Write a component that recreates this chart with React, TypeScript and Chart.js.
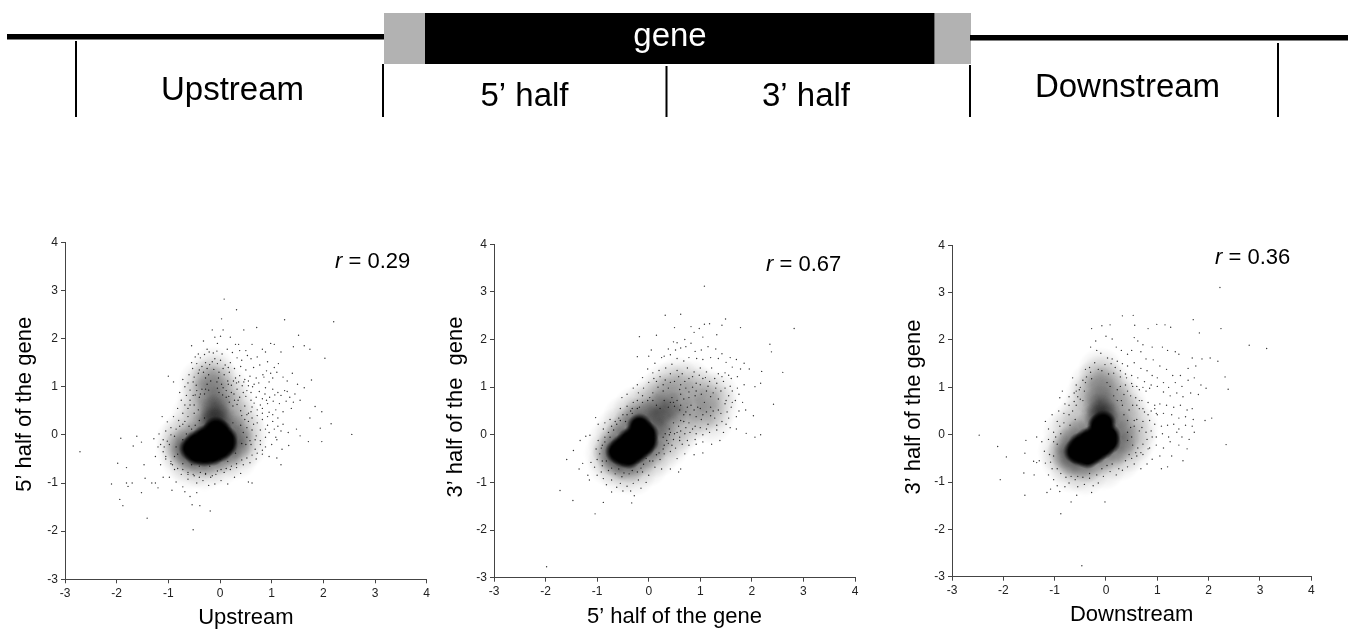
import React, { useEffect, useRef } from "react";
import { Chart, registerables } from "chart.js";

Chart.register(...registerables);

const FONT = '"Liberation Sans", Arial, sans-serif';

// ---------- gene diagram (positions along the drawn map) ----------
const flankLeft = [[7, 36.7], [384, 36.7]];
const flankRight = [[970, 37.7], [1348, 37.7]];
const utrLeft = [[384, 38.5], [425, 38.5]];
const geneBody = [[425, 38.5], [934.5, 38.5]];
const utrRight = [[934.5, 38.5], [971, 38.5]];
const dividers = [
  [[76, 41], [76, 117]],
  [[383, 64], [383, 117]],
  [[666.5, 66], [666.5, 117]],
  [[970, 65], [970, 117]],
  [[1278, 43], [1278, 117]],
];
const regionLabels: [string, number, number, string][] = [
  ["gene", 670, 37, "#ffffff"],
  ["Upstream", 232.5, 91, "#000000"],
  ["5\u2019 half", 524.5, 97, "#000000"],
  ["3\u2019 half", 806, 97, "#000000"],
  ["Downstream", 1127.5, 88, "#000000"],
];

// ---------- tick labels shared by the scatter plots ----------
const axisTicks = [-3, -2, -1, 0, 1, 2, 3, 4];

// ---------- panel 1: Upstream vs 5' half ----------
const upCore = [-.55,-.28,-.45,-.16,-.45,-.38,-.3,-.06,-.3,-.24,-.3,-.4,-.15,.02,-.15,-.18,-.15,-.38,0,.05,0,-.1,0,-.3,.1,-.08,.1,-.2,-.08,.12];
const upShade = [-.75,-.25,-.65,-.42,-.5,-.5,-.3,-.55,-.1,-.5,.1,-.42,.25,-.3,.35,-.15,.3,.05,.15,.2,0,.28,-.2,.25,-.35,.1,-.55,-.08,-.15,.45,-.05,.5,-.12,.65,-.08,.3,-.12,.2];
const upLight = [-.8,-.3,-.7,-.5,-.55,-.65,-.3,-.68,0,-.58,.3,-.45,.45,-.25,.5,0,.42,.25,.3,.5,.2,.75,.1,1,-.1,1.2,-.3,1,-.4,.7,-.5,.4,-.68,.05,-.8,-.1,-.15,1.35,-.3,.4,.1,.5,-.1,.95,-.15,.8,-.35,1.1];
const upDots = [
-2.71,-.35,-1.98,-.59,-1.92,-.07,-2.1,-1.02,-1.94,-1.34,-1.88,-1.47,-1.81,-.68,-1.81,-1,-1.78,-1.07,-1.7,-1,-1.68,-.23,-1.61,-.03,-1.52,-.15,-1.52,-1.2,-1.41,-1.73,-1.47,-.62,-1.45,-.9,-1.32,-1,-.52,-1.97,-.54,-1.45,-.39,-1.47,-.19,-1.58,
.08,2.82,.32,2.6,.03,2.41,1.25,2.39,2.2,2.35,1.52,2.07,.71,2.23,.46,2.18,-.15,2.18,.06,2.18,2.03,1.59,2.55,.01,2.15,.23,1.97,.48,1.97,-.14,1.94,.14,1.84,.59,1.74,.35,1.71,-.14,1.77,1.14,1.74,1.78,1.63,1.85,1.42,1.83,
-.55,1.85,-.32,1.95,-.1,2.03,.01,2.05,.2,2.03,.3,1.88,.36,1.88,-.05,1.9,-.25,1.78,-.42,1.68,-.48,1.62,-.38,1.6,-.3,1.67,-.21,1.72,-.13,1.7,-.06,1.74,.04,1.68,.14,1.78,.24,1.71,.33,1.6,.42,1.55,.53,1.65,.6,1.58,.72,1.62,.82,1.78,.88,1.72,.98,1.9,1.05,1.88,1.18,1.72,1.13,1.48,1.05,1.4,.92,1.52,.77,1.45,.65,1.4,.5,1.35,.4,1.42,.28,1.38,.2,1.5,.1,1.45,.01,1.55,-.1,1.58,-.2,1.46,-.28,1.5,-.35,1.42,-.45,1.48,-.53,1.38,-.6,1.25,-.5,1.2,-.42,1.28,-.32,1.3,-.22,1.25,-.12,1.36,-.02,1.3,.08,1.25,.18,1.3,.3,1.18,.38,1.23,.48,1.15,.58,1.22,.7,1.18,.83,1.25,.95,1.1,1.02,1.18,1.22,1.2,1.3,1.12,1.4,1.28,1.5,1.05,1.63,.98,1.45,.85,1.35,.78,1.25,.92,1.12,.88,1.02,.95,.88,.98,.76,.9,.63,1,.52,.92,.43,1.02,.33,.95,.22,1.03,.12,.92,.03,1.05,-.05,.97,-.25,1.05,-.35,.95,-.46,1.03,-.58,.93,-.68,1,-.78,.88,-.9,1.1,-1,1.22,-.75,.72,-.65,.82,-.58,.72,-.48,.83,-.4,.78,-.3,.85,-.22,.93,.05,.83,.17,.8,.27,.85,.38,.78,.5,.8,.6,.72,.7,.78,.82,.75,.92,.65,1.03,.7,1.15,.65,1.28,.7,1.42,.68,1.55,.72,1.38,.55,1.22,.48,1.08,.52,.95,.47,.82,.55,.72,.52,.62,.58,.55,.45,.48,.6,.4,.5,.33,.63,.25,.6,.18,.68,-.62,.55,-.72,.45,-.82,.55,-.9,.38,-1.02,.27,-1.12,.38,-.95,.15,-1.05,.08,-1.18,.02,-1.28,-.08,-1.15,-.2,-1.02,-.13,-.88,-.03,-.78,.18,-.68,.28,-.6,.18,-.8,.3,.62,.35,.72,.25,.82,.32,.92,.2,1.02,.28,1.12,.18,1.22,.22,1.32,.05,1.48,.12,1.55,-.02,1.33,-.22,1.2,-.3,1.1,-.1,1,-.2,.88,-.25,.78,-.12,.7,-.02,.62,.1,.52,.15,.6,-.2,.68,-.3,.82,-.4,.95,-.45,1.1,-.48,1.18,-.62,.7,-.5,.58,-.58,.45,-.62,.32,-.68,.2,-.72,.08,-.78,-.05,-.75,-.15,-.85,-.28,-.82,-.4,-.88,-.52,-.82,-.62,-.78,-.75,-.82,-.88,-.72,-.95,-.6,-1.05,-.5,-1.15,-.62,-1.25,-.45,-1.1,-.35,-.98,-.88,-.85,-.98,-.72,-1.08,-.62,-.92,-.45,-1,-.33,-.95,-.22,-1.05,-.1,-1.02,.02,-.95,.15,-1.02,.28,-.88,.4,-.8,.55,-.98,.62,-1,-1.1,-.88,-1.2,-1.1,-1.25,-1,-.93,-1.15,-.58,-1.28,-.68,-1.18,-.45,-1.2,.5,1.75,.62,1.88,.38,1.75,.85,1.2,.75,1.08,.55,1.02,.32,1.08,.15,1.12,-.03,1.18,-.18,1.12,-.28,1.18,-.52,1.1,-.62,1.08,-.72,1.15,
.55,1.12,.66,1.05,.9,1.33,.98,1.28,1.1,1.3,.87,.85,.96,.78,1.06,.83,1.18,.82,1.3,.9,.78,.62,.9,.72,.66,.66,.6,.88,.45,.88,.35,.72,.28,.72,.22,.88,.12,.78,.06,.98,.16,1.05,.26,1.12,.36,1.1,.46,1.1,-.06,1.1,-.02,.88,-.28,.95,-.38,.85,-.45,.92,-.52,.82,-.58,.62,-.68,.62,-.5,.62,-.42,.52,-.5,.45,-.62,.38,-.72,.22,-.85,.12,-.95,0,-1.1,-.1,-1.2,-.25,-1.08,-.25,-.98,-.2,-1.05,-.45,-.95,-.55,-.88,-.45,-.92,-.62,-.82,-.7,-.72,-.72,-.62,-.82,-.5,-.85,-.38,-.78,-.28,-.8,-.18,-.88,-.08,-.82,.02,-.72,.12,-.7,.22,-.65,.32,-.6,.42,-.52,.52,-.48,.62,-.42,.72,-.38,.82,-.32,.5,-.2,.58,-.12,.68,-.1,.78,-.2,.88,-.05,.95,.05,.88,.12,.78,.1,.65,.22,.55,.28,.48,.32,.42,.4,.52,.42,.6,.48,.72,.4,.82,.45,.92,.38,1.02,.42,1.12,.35,1.05,.12,1.18,.08,1.08,-.05,-.05,1.48,.06,1.38,.16,1.4,-.15,1.52,-.25,1.38,-.4,1.35,-.55,1.5,.25,.25,.4,.2,.45,.05,.52,-.05,.42,-.18,.3,-.38,.15,-.55,0,-.5,-.2,-.65,-.4,-.65,-.55,-.62,-.72,-.6,-.82,-.4,-.85,-.25,-.72,-.1,-.65,.02,-.55,.12,-.48,.2,-.4,.3,-.3,.35];

// ---------- panel 2: 5' half vs 3' half ----------
const fiveCore = [-.6,-.35,-.5,-.25,-.5,-.42,-.38,-.12,-.38,-.28,-.38,-.45,-.25,-.02,-.25,-.18,-.25,-.35,-.13,.08,-.13,-.08,-.13,-.24,-.05,.02,-.05,-.14,-.18,.18];
const fiveShade = [-.75,-.35,-.68,-.5,-.55,-.6,-.38,-.65,-.18,-.52,0,-.35,.12,-.18,.2,.05,.12,.25,0,.38,-.18,.42,-.35,.25,-.5,.05,-.65,-.15,.25,.25,.4,.4,.15,.5,.55,.55,.3,.6];
const fiveLight = [-.8,-.4,-.75,-.6,-.55,-.75,-.3,-.8,-.05,-.62,.15,-.42,.35,-.22,.5,-.02,.65,.15,.85,.35,1.05,.5,1.3,.6,1.3,.85,1.05,.95,.8,1.1,.55,1.15,.35,1.05,.15,.85,-.05,.65,-.25,.55,-.45,.35,-.6,.1,-.75,-.15,.7,.65,.95,.72,.5,.85,.25,.75,1.2,.3];
const fiveDots = [
-1.98,-2.77,-1.04,-1.66,-1.47,-1.38,-1.72,-1.17,-.88,-1.42,-.33,-1.43,-1.59,-.52,-1.46,-.33,-1.33,-.12,-1.22,-.03,-1.14,-.01,-1.03,.36,1.08,3.12,.32,2.51,.62,2.53,2.82,2.23,1.49,2.43,2.35,1.9,2.38,1.74,2.6,1.31,2.42,.64,2.19,1.33,2.17,1.08,2.06,1.01,2.17,0,2.06,-.05,1.89,.03,2.03,.4,1.78,2.25,-.18,2.06,.15,2.09,-.22,1.64,
.5,2.25,.82,2.27,.98,2.23,1.08,2.32,1.18,2.33,1.42,2.3,1.32,2.1,1.05,2.05,.88,2.15,.7,2.0,.48,1.95,.55,1.93,.3,1.65,.05,1.78,0,1.65,.12,1.5,.25,1.62,.38,1.8,.42,1.68,.52,1.78,.62,1.82,.72,1.85,.82,1.92,.9,1.75,1.02,1.78,1.15,1.85,1.3,1.8,1.42,1.7,1.58,1.62,1.7,1.58,1.85,1.5,1.95,1.38,1.78,1.38,1.62,1.42,1.5,1.52,1.35,1.6,1.2,1.62,1.05,1.58,.93,1.6,.78,1.62,.68,1.55,.55,1.6,.45,1.48,.33,1.4,.2,1.35,.08,1.3,-.02,1.38,-.12,1.2,-.22,1.05,-.3,.98,-.42,.85,-.52,.78,-.2,.88,-.1,.98,0,1.1,.1,1.18,.22,1.22,.32,1.15,.42,1.28,.55,1.35,.65,1.28,.75,1.4,.88,1.32,1,1.4,1.12,1.32,1.22,1.4,1.35,1.28,1.48,1.3,1.6,1.18,1.72,1.22,1.85,1.05,1.72,.98,1.58,1.02,1.45,1.12,1.32,1.08,1.18,1.12,1.05,1.18,.92,1.08,.78,1.18,.62,1.05,.5,1.12,.38,.98,.28,.92,.18,1,.08,.88,.02,.78,.62,.85,.78,.9,.92,.92,1.12,.92,1.25,.88,1.4,.92,1.55,.82,1.68,.72,1.82,.68,1.88,.52,1.75,.5,1.6,.58,1.48,.65,1.35,.52,1.2,.58,1.08,.68,.95,.58,.82,.62,.72,.48,.6,.52,.48,.68,.38,.58,1.7,.38,1.55,.35,1.42,.28,1.28,.35,1.15,.22,1.02,.32,.9,.18,.78,.25,.68,.28,.58,.18,.48,.25,.4,.12,.32,.02,1.7,.12,1.58,.15,1.45,.05,1.32,.1,1.18,.05,1.05,.0,.92,.02,.8,.05,.7,.02,.6,-.05,.48,-.1,.38,-.18,.28,-.05,1.38,-.12,1.22,-.2,1.05,-.15,.92,-.2,.78,-.22,.65,-.2,.52,-.28,.42,-.35,.3,-.4,.22,-.52,1.05,-.38,.88,-.42,.7,-.4,.55,-.5,.62,-.72,.58,-.78,.42,-.72,.25,-.72,.12,-.68,.0,-.85,-.12,-.78,-.05,-1.0,-.2,-.95,-.3,-1.02,-.15,-1.12,-.35,-1.18,-.28,-1.28,-.42,-1.08,-.5,-1.18,-.55,-1.02,-.62,-1.1,-.72,-1.2,-.72,-.95,-.82,-1.05,-.88,-.92,-.92,-.78,-1.0,-.85,-1.18,-.85,-1.15,-.95,-1.05,-.68,-1.12,-.58,-1.28,-.6,-1.35,-.72,-1,-.52,-.95,-.4,-1.02,-.3,-.9,-.22,-.98,-.12,-.85,-.05,-.88,.12,-.78,.05,-.72,.18,-.65,.28,-.58,.35,-.5,.42,-.55,.55,-.42,.6,-.35,.5,-.3,.68,-.22,.72,-.12,.82,-.75,.32,-.85,.25,-.98,.22,
.15,1.12,.28,1.05,.42,1.1,.58,1.22,.7,1.12,.85,1.22,.98,1.25,1.1,1.2,1.28,1.18,1.42,1.22,1.55,1.25,.6,.95,.72,.98,.85,1.0,1.0,1.05,1.15,1.02,1.3,.98,1.48,.98,1.62,.92,1.75,.85,.45,.78,.55,.72,.68,.75,.78,.78,.9,.82,1.02,.85,1.2,.8,1.35,.75,1.5,.72,1.62,.68,.3,.72,.42,.68,.5,.6,.62,.62,.75,.58,.88,.52,1.0,.55,1.12,.48,1.25,.5,1.4,.45,1.52,.48,.68,.42,.8,.42,.92,.38,1.05,.42,1.2,.4,1.32,.2,1.5,.22,.62,.3,.72,.15,.85,.12,1.0,.15,1.12,.12,.55,.05,.62,.08,.42,.05,.5,.02,.35,-.12,.45,-.22,.6,-.12,.75,-.12,.9,-.1,.28,-.3,.15,-.42,.02,-.55,-.1,-.62,-.22,-.78,-.38,-.82,-.52,-.88,-.65,-.82,-.78,-.75,-.9,-.65,-.82,-.55,-.72,-.7,-.58,-.72,-.48,-.8,-.32,-.75,-.15,-.7,-.05,-.5,.08,-.55,.2,-.38,.3,-.22,.4,.0,-.9,-.55,-.92,-.28,-.85,-.15,-.75,-.05,-.68,.1,-.62,.22,-.55,.3,-.42,.42,-.32,.45,-.22,.55,-.12,.68,-.02,.72,.08,.72,.15,.62,.22,.55,-.18,.58,-.32,.55,-.45,.28];

// ---------- panel 3: Downstream vs 3' half ----------
const downCore = [-.58,-.35,-.5,-.22,-.5,-.4,-.36,-.12,-.36,-.27,-.36,-.45,-.22,-.05,-.22,-.2,-.22,-.36,-.08,.05,-.08,-.1,-.08,-.26,.04,-.02,.04,-.15,-.12,.18,-.05,.25];
const downShade = [-.8,-.35,-.72,-.5,-.58,-.6,-.38,-.65,-.15,-.52,.08,-.4,.25,-.25,.32,-.05,.25,.15,.12,.32,-.05,.42,-.22,.28,-.4,.08,-.58,-.05,-.7,-.18,-.15,.5,-.05,.55,-.1,.38,-.12,.68,-.08,.3];
const downLight = [-.88,-.35,-.82,-.55,-.65,-.75,-.4,-.8,-.05,-.68,.25,-.5,.45,-.32,.55,-.1,.58,.15,.45,.4,.35,.65,.22,.85,.1,1.05,-.1,1.2,-.28,1.05,-.35,.8,-.45,.5,-.62,.25,-.78,.05,-.1,1.35,.2,.55,.0,.95,-.2,.85];
const downDots = [
-2.47,-.01,-2.11,-.25,-1.94,-.47,-2.06,-.95,-1.6,-.81,-1.58,-1.28,-1.58,-.39,-1.56,-.12,-1.35,-.05,-1.4,-.85,-1.41,-.56,-1.35,-.59,-.88,-1.67,-.68,-1.42,-.47,-2.77,-.02,-1.42,-.57,-1.28,2.22,3.11,2.24,2.24,2.79,1.89,3.13,1.82,2.38,.96,2.34,-.21,2.32,1.22,2.06,.35,1.93,.3,1.7,2.43,1.82,2.15,.32,2.51,.53,2.52,.56,2.31,.82,2.24,.99,2.33,1.15,2.32,1.26,2.27,-.28,2.24,-.08,2.3,.08,2.32,
.55,2.05,.62,1.98,.72,1.9,.9,1.85,1.1,1.85,1.2,1.78,1.35,1.75,1.42,1.7,1.68,1.62,1.87,1.6,2.03,1.62,2.18,1.55,1.75,1.45,1.6,1.4,1.45,1.25,1.3,1.25,1.18,1.38,1.05,1.45,.92,1.58,.78,1.6,.68,1.75,.5,1.78,.42,1.7,.3,1.78,.2,1.85,.12,2.02,.0,2.08,-.2,1.98,-.3,1.85,-.18,1.78,-.1,1.72,.03,1.62,.12,1.6,.22,1.55,.32,1.5,.42,1.45,.55,1.52,.68,1.4,.8,1.35,.9,1.25,1,1.2,1.12,1.1,1.22,1.0,1.35,1.1,1.48,1.02,1.6,1.15,1.72,1.2,1.85,1.05,1.95,.98,1.8,.85,1.65,.88,1.5,.8,1.38,.88,1.25,.82,1.12,.9,1,1.02,.88,1.05,.75,1.12,.62,1.2,.5,1.25,.38,1.28,.28,1.22,.15,1.3,.05,1.28,-.08,1.35,-.22,1.52,-.32,1.42,-.4,1.38,-.28,1.18,-.38,1.22,-.45,1.15,-.58,1.05,-.65,1.2,-.52,.95,-.62,.88,-.72,.8,-.85,.92,-.9,.78,-.8,.65,-.72,.62,-.62,.7,-.55,.8,-.45,.72,-.82,.45,-.92,.5,-1.05,.42,-.95,.28,-1.18,.28,-1.12,.12,-1.02,.05,-.9,.18,-.98,-.05,-1.12,-.1,-1.25,-.15,-1.2,-.35,-1.1,-.42,-1.18,-.6,-1.3,-.55,-1.05,-.72,-1.12,-.85,-1.02,-.95,-.95,-1.08,-1.08,-1.15,-1.15,-1.22,-.9,-1.2,-.8,-1.1,-.72,-1.02,-.6,-.95,-.55,-1.1,-.42,-1.05,-.32,-.92,-.25,-1.08,-.15,-1.02,-.28,-1.22,-.05,-.88,.08,-.78,.2,-.85,.32,-.75,.42,-.68,.55,-.62,.68,-.72,.8,-.62,1.08,-.72,1.2,-.68,1.5,-.55,1.28,-.45,1.05,-.45,.9,-.52,.72,-.42,.58,-.38,.45,-.42,.72,-.2,.85,-.28,.98,-.22,1.12,-.28,1.25,-.15,1.42,-.22,1.58,-.3,1.62,-.1,1.48,-.05,1.38,.05,1.22,-.05,1.1,.02,.98,-.05,.88,.08,.78,.05,.65,.08,.55,.18,.6,.32,.72,.28,.85,.3,.95,.22,1.08,.18,1.2,.2,1.32,.22,1.42,.12,1.55,.2,1.68,.18,1.72,.05,1.7,.32,1.55,.38,1.42,.35,1.28,.42,1.12,.45,1,.42,.88,.5,.75,.48,.65,.55,.52,.62,.48,.82,.58,.78,.7,.72,.82,.68,.95,.62,1.05,.65,1.18,.62,1.32,.58,1.45,.62,1.58,.52,1.68,.55,.38,1.05,.28,1.02,.52,1.02,.65,.95,.78,.92,
.28,1.35,.4,1.2,.5,1.08,.6,1.02,.72,1.0,.85,.98,.18,1.42,.1,1.5,-.02,1.48,-.15,1.38,-.3,1.32,-.4,1.1,-.5,1.0,-.58,.92,-.42,.92,-.5,.75,-.58,.62,-.65,.5,-.72,.42,-.6,.32,-.7,.2,-.82,.25,-.88,.02,-.95,-.2,-1.02,-.15,-1.02,-.45,-1.08,-.58,-.95,-.72,-.88,-.82,-.78,-.9,-.68,-.88,-.55,-.88,-.45,-.9,-.32,-.82,-.18,-.85,-.08,-.72,.02,-.65,.12,-.62,.25,-.72,.38,-.55,.5,-.5,.6,-.45,.62,-.28,.52,-.22,.42,-.12,.5,-.05,.42,.05,.48,.15,.55,.3,.42,.3,.35,.42,.45,.52,.32,.62,.3,.72,.35,.85,.42,.92,.22,.95,.15,.82,.22,.72,.08,1.02,.02,1.1,.65,.72,.72,.55,.82,.42,.95,.55,.98,.45,.6,.62,.7,.15,.8,-.1,.9,-.05,.82,-.3,.68,-.38];

// ---------- correlation notes and axis titles ----------
const rValues = ["0.29", "0.67", "0.36"];
const xTitles = ["Upstream", "5\u2019 half of the gene", "Downstream"];
const yTitles = ["5\u2019 half of the gene", "3\u2019 half of the  gene", "3\u2019 half of the gene"];

const toPoints = (flat: number[]) => {
  const out: { x: number; y: number }[] = [];
  for (let i = 0; i + 1 < flat.length; i += 2) out.push({ x: flat[i], y: flat[i + 1] });
  return out;
};
const toLine = (pts: number[][]) => pts.map(([x, y]) => ({ x, y }));

// A soft round marker, so overlapping points read as a density cloud.
const softMarker = (radius: number, alpha: number, flat: number) => {
  const c = document.createElement("canvas");
  c.width = c.height = radius * 2;
  const g = c.getContext("2d")!;
  const grad = g.createRadialGradient(radius, radius, 0, radius, radius, radius);
  grad.addColorStop(0, `rgba(0,0,0,${alpha})`);
  grad.addColorStop(flat, `rgba(0,0,0,${alpha})`);
  grad.addColorStop(1, "rgba(0,0,0,0)");
  g.fillStyle = grad;
  g.fillRect(0, 0, radius * 2, radius * 2);
  return c;
};

type Panel = {
  plot: [number, number, number, number];
  canvasLeft: number;
  canvasBottom: number;
  rPos: [number, number];
  yShift: number;
  core: number[];
  shade: number[];
  light: number[];
  dots: number[];
};

const panels: Panel[] = [
  { plot: [65, 426.7, 242.3, 579.3], canvasLeft: 12, canvasBottom: 631, rPos: [335, 262], yShift: -6.5, core: upCore, shade: upShade, light: upLight, dots: upDots },
  { plot: [494, 855, 244, 577.7], canvasLeft: 443, canvasBottom: 630, rPos: [766, 265], yShift: -4, core: fiveCore, shade: fiveShade, light: fiveLight, dots: fiveDots },
  { plot: [952, 1311.3, 245.3, 576.7], canvasLeft: 901, canvasBottom: 628, rPos: [1215, 258], yShift: -4, core: downCore, shade: downShade, light: downLight, dots: downDots },
];

function DiagramChart() {
  const ref = useRef<HTMLCanvasElement>(null);
  useEffect(() => {
    const seg = (data: number[][], color: string, w: number) => ({
      data: toLine(data),
      showLine: true,
      borderColor: color,
      borderWidth: w,
      borderCapStyle: "butt" as const,
      pointRadius: 0,
    });
    const labelPlugin = {
      id: "regionLabels",
      afterDatasetsDraw(chart: any) {
        const { ctx, scales } = chart;
        ctx.save();
        ctx.font = `33px ${FONT}`;
        ctx.textAlign = "center";
        ctx.textBaseline = "middle";
        regionLabels.forEach(([t, x, y, c]) => {
          ctx.fillStyle = c;
          ctx.fillText(t, scales.x.getPixelForValue(x), scales.y.getPixelForValue(y));
        });
        ctx.restore();
      },
    };
    const chart = new Chart(ref.current!, {
      type: "scatter",
      data: {
        datasets: [
          seg(flankLeft, "#000", 5.5),
          seg(flankRight, "#000", 5.5),
          seg(utrLeft, "#b2b2b2", 51),
          seg(geneBody, "#000", 51),
          seg(utrRight, "#b2b2b2", 51),
          ...dividers.map((d) => seg(d, "#000", 2)),
        ],
      },
      options: {
        animation: false,
        responsive: false,
        layout: { padding: 0 },
        plugins: { legend: { display: false }, tooltip: { enabled: false } },
        scales: {
          x: { type: "linear", min: 0, max: 1354, display: false },
          y: { type: "linear", min: 0, max: 130, reverse: true, display: false },
        },
      },
      plugins: [labelPlugin],
    } as any);
    return () => chart.destroy();
  }, []);
  return <canvas ref={ref} width={1354} height={130} style={{ position: "absolute", left: 0, top: 0 }} />;
}

function ScatterPanel({ index }: { index: number }) {
  const p = panels[index];
  const ref = useRef<HTMLCanvasElement>(null);
  const [pl, pr, pt, pb] = p.plot;
  const top = Math.floor(pt) - 10;
  const axisW = pl - p.canvasLeft;
  const axisH = p.canvasBottom - pb;
  const width = Math.ceil(pr - p.canvasLeft + 12);
  const height = p.canvasBottom - top;
  useEffect(() => {
    const axisColor = "#444444";
    const common = {
      type: "linear" as const,
      min: -3,
      max: 4,
      border: { display: true, color: axisColor, width: 1 },
      grid: { display: true, drawOnChartArea: false, drawTicks: true, tickLength: 4, color: axisColor },
    };
    const ticks = {
      autoSkip: false,
      stepSize: 1,
      padding: 3,
      maxRotation: 0,
      color: "#222222",
      font: { family: FONT, size: 12 },
      callback: (v: any) => (axisTicks.includes(v) ? String(v) : ""),
    };
    const cloud = (flat: number[], marker: HTMLCanvasElement) => ({
      data: toPoints(flat),
      pointStyle: marker,
      pointRadius: 1,
      borderWidth: 0,
    });
    const notePlugin = {
      id: "rNote",
      beforeDraw(chart: any) {
        const s = chart.scales.y;
        if (s.__shifted) return;
        s.__shifted = true;
        const original = s.drawTitle;
        s.drawTitle = function (...args: any[]) {
          chart.ctx.save();
          chart.ctx.translate(0, p.yShift);
          original.apply(this, args);
          chart.ctx.restore();
        };
      },
      afterDatasetsDraw(chart: any) {
        const { ctx } = chart;
        const x0 = p.rPos[0] - p.canvasLeft;
        const y0 = p.rPos[1] - top;
        ctx.save();
        ctx.fillStyle = "#000";
        ctx.textBaseline = "middle";
        ctx.textAlign = "left";
        ctx.font = `italic 22px ${FONT}`;
        ctx.fillText("r", x0, y0);
        const w = ctx.measureText("r").width;
        ctx.font = `22px ${FONT}`;
        ctx.fillText(` = ${rValues[index]}`, x0 + w, y0);
        ctx.restore();
      },
    };
    const chart = new Chart(ref.current!, {
      type: "scatter",
      data: {
        datasets: [
          cloud(p.light, softMarker(24, 0.16, 0)),
          cloud(p.shade, softMarker(18, 0.3, 0)),
          cloud(p.core, softMarker(13, 1, 0.6)),
          {
            data: toPoints(p.dots),
            backgroundColor: "rgba(0,0,0,0.8)",
            pointRadius: 0.7,
            pointBorderWidth: 0,
            borderWidth: 0,
          },
        ],
      },
      options: {
        animation: false,
        responsive: false,
        layout: { padding: { top: pt - top, right: width - (pr - p.canvasLeft), left: 0, bottom: 0 } },
        plugins: { legend: { display: false }, tooltip: { enabled: false } },
        scales: {
          x: {
            ...common,
            ticks,
            title: { display: true, text: xTitles[index], color: "#000", padding: 0, font: { family: FONT, size: 22 } },
            afterFit: (s: any) => { s.height = axisH; },
          },
          y: {
            ...common,
            ticks,
            title: { display: true, text: yTitles[index], color: "#000", padding: 0, font: { family: FONT, size: 22 } },
            afterFit: (s: any) => { s.width = axisW; },
          },
        },
      },
      plugins: [notePlugin],
    } as any);
    return () => chart.destroy();
  }, []);
  return (
    <canvas
      ref={ref}
      width={width}
      height={height}
      style={{ position: "absolute", left: p.canvasLeft, top }}
    />
  );
}

export default function App() {
  return (
    <div style={{ position: "absolute", left: 0, top: 0, width: 1354, height: 633, background: "#fff", overflow: "hidden" }}>
      <DiagramChart />
      {panels.map((_, i) => (
        <ScatterPanel key={i} index={i} />
      ))}
    </div>
  );
}
